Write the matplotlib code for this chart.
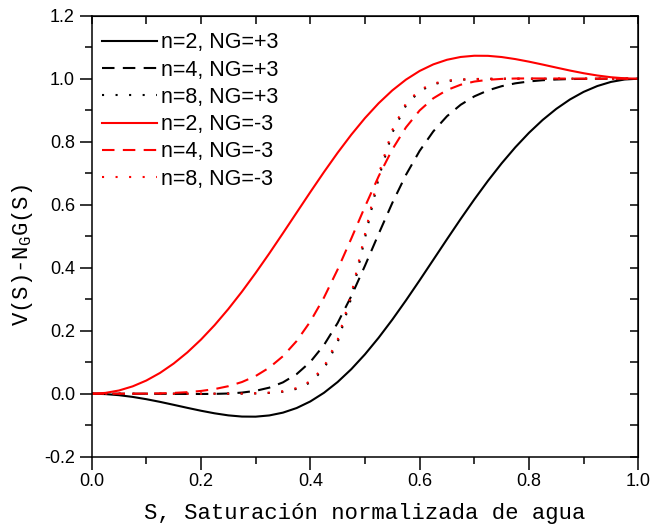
import numpy as np
import matplotlib
matplotlib.use("Agg")
import matplotlib.pyplot as plt

# water saturation (x) and the six curves V(S) - NG*G(S)
S = [0.0, 0.025, 0.05, 0.075, 0.1, 0.125, 0.15, 0.175, 0.2, 0.225, 0.25,
     0.275, 0.3, 0.325, 0.35, 0.375, 0.4, 0.425, 0.45, 0.475, 0.5,
     0.525, 0.55, 0.575, 0.6, 0.625, 0.65, 0.675, 0.7, 0.725, 0.75,
     0.775, 0.8, 0.825, 0.85, 0.875, 0.9, 0.925, 0.95, 0.975, 1.0]

n2_pos = [0.0, -0.0012, -0.0047, -0.0102, -0.0174, -0.0259, -0.0353, -0.0449, -0.0541, -0.0623, -0.0688,
          -0.0726, -0.0729, -0.0690, -0.0601, -0.0455, -0.0246, 0.0029, 0.0371, 0.0779, 0.1250,
          0.1777, 0.2351, 0.2963, 0.3600, 0.4251, 0.4903, 0.5546, 0.6167, 0.6759, 0.7313,
          0.7822, 0.8282, 0.8690, 0.9043, 0.9341, 0.9582, 0.9767, 0.9898, 0.9975, 1.0]
n4_pos = [0.0, 0.0, 0.0, -0.0001, -0.0001, -0.0003, -0.0005, -0.0008, -0.0009, -0.0006, 0.0006,
          0.0035, 0.0091, 0.0192, 0.0360, 0.0622, 0.1008, 0.1545, 0.2245, 0.3098, 0.4063,
          0.5073, 0.6056, 0.6948, 0.7709, 0.8328, 0.8809, 0.9172, 0.9439, 0.9629, 0.9762,
          0.9853, 0.9913, 0.9952, 0.9975, 0.9989, 0.9995, 0.9999, 1.0, 1.0, 1.0]
n8_pos = [0.0, 0.0, 0.0, 0.0, 0.0, 0.0, 0.0, 0.0, 0.0, 0.0, 0.0001,
          0.0003, 0.0009, 0.0025, 0.0063, 0.0154, 0.0357, 0.0789, 0.1630, 0.3045, 0.4941,
          0.6847, 0.8286, 0.9153, 0.9606, 0.9823, 0.9923, 0.9967, 0.9987, 0.9995, 0.9998,
          0.9999, 1.0, 1.0, 1.0, 1.0, 1.0, 1.0, 1.0, 1.0, 1.0]
n2_neg = [0.0, 0.0025, 0.0102, 0.0233, 0.0418, 0.0659, 0.0957, 0.1310, 0.1718, 0.2178, 0.2688,
          0.3241, 0.3833, 0.4454, 0.5097, 0.5749, 0.6400, 0.7037, 0.7649, 0.8223, 0.8750,
          0.9221, 0.9629, 0.9971, 1.0246, 1.0455, 1.0601, 1.0690, 1.0729, 1.0726, 1.0688,
          1.0623, 1.0541, 1.0449, 1.0353, 1.0259, 1.0174, 1.0102, 1.0047, 1.0012, 1.0]
n4_neg = [0.0, 0.0, 0.0, 0.0001, 0.0005, 0.0011, 0.0025, 0.0048, 0.0087, 0.0147, 0.0238,
          0.0371, 0.0561, 0.0828, 0.1191, 0.1672, 0.2291, 0.3052, 0.3944, 0.4927, 0.5938,
          0.6902, 0.7755, 0.8455, 0.8992, 0.9378, 0.9640, 0.9808, 0.9909, 0.9965, 0.9994,
          1.0006, 1.0009, 1.0008, 1.0005, 1.0003, 1.0001, 1.0001, 1.0, 1.0, 1.0]
n8_neg = [0.0, 0.0, 0.0, 0.0, 0.0, 0.0, 0.0, 0.0, 0.0, 0.0001, 0.0002,
          0.0005, 0.0013, 0.0033, 0.0077, 0.0177, 0.0394, 0.0847, 0.1714, 0.3153, 0.5059,
          0.6955, 0.8370, 0.9211, 0.9643, 0.9846, 0.9937, 0.9975, 0.9991, 0.9997, 0.9999,
          1.0, 1.0, 1.0, 1.0, 1.0, 1.0, 1.0, 1.0, 1.0, 1.0]

labels = ["n=2, NG=+3", "n=4, NG=+3", "n=8, NG=+3",
          "n=2, NG=-3", "n=4, NG=-3", "n=8, NG=-3"]
series = [n2_pos, n4_pos, n8_pos, n2_neg, n4_neg, n8_neg]
colors = ["black"] * 3 + ["red"] * 3
dash_styles = [None, (6, 4), (1, 5.5)] * 2

plt.rcParams['font.family'] = ['Liberation Sans', 'DejaVu Sans']
plt.rcParams['mathtext.fontset'] = 'custom'
plt.rcParams['mathtext.rm'] = 'Liberation Mono'

fig = plt.figure(figsize=(6.5, 5.27), dpi=100)
ax = fig.add_axes([0.141, 0.1334, 0.841, 0.8368])

for ys, lab, c, d in zip(series, labels, colors, dash_styles):
    line, = ax.plot(S, ys, color=c, lw=1.5, label=lab)
    if d is not None:
        line.set_dashes(d)

ax.set_xlim(0, 1.0)
ax.set_ylim(-0.2, 1.2)
ax.set_xticks(np.arange(0, 1.01, 0.2))
ax.set_yticks(np.arange(-0.2, 1.21, 0.2))
ax.set_xticks(np.arange(0.1, 1.0, 0.2), minor=True)
ax.set_yticks(np.arange(-0.1, 1.2, 0.2), minor=True)
ax.xaxis.set_major_formatter(matplotlib.ticker.FormatStrFormatter('%.1f'))
ax.yaxis.set_major_formatter(matplotlib.ticker.FormatStrFormatter('%.1f'))
ax.tick_params(which='major', direction='out', length=9, width=1.1, labelsize=13, pad=3)
ax.tick_params(which='minor', direction='out', length=5, width=1.1)
for sp in ax.spines.values():
    sp.set_linewidth(1.1)

# mirrored inward ticks on top and right
top = ax.secondary_xaxis('top')
top.set_xticks(np.arange(0, 1.01, 0.1))
top.tick_params(direction='in', length=6, width=1.1, labeltop=False)
right = ax.secondary_yaxis('right')
right.set_yticks(np.arange(-0.2, 1.21, 0.1))
right.tick_params(direction='in', length=6, width=1.1, labelright=False)

mono = 'Liberation Mono'
ax.set_xlabel("S, Saturación normalizada de agua", family=mono, fontsize=16, labelpad=9)
ax.set_ylabel(r"V(S)-N$_{\mathrm{G}}$G(S)", family=mono, fontsize=16)
ax.yaxis.set_label_coords(-0.104, 0.457)

ax.legend(loc='upper left', bbox_to_anchor=(0.019, 0.962), frameon=False,
          fontsize=15.5, handlelength=2.56, handletextpad=0.19,
          labelspacing=0.29, borderpad=0, borderaxespad=0)

fig.savefig("out.png", dpi=100)
